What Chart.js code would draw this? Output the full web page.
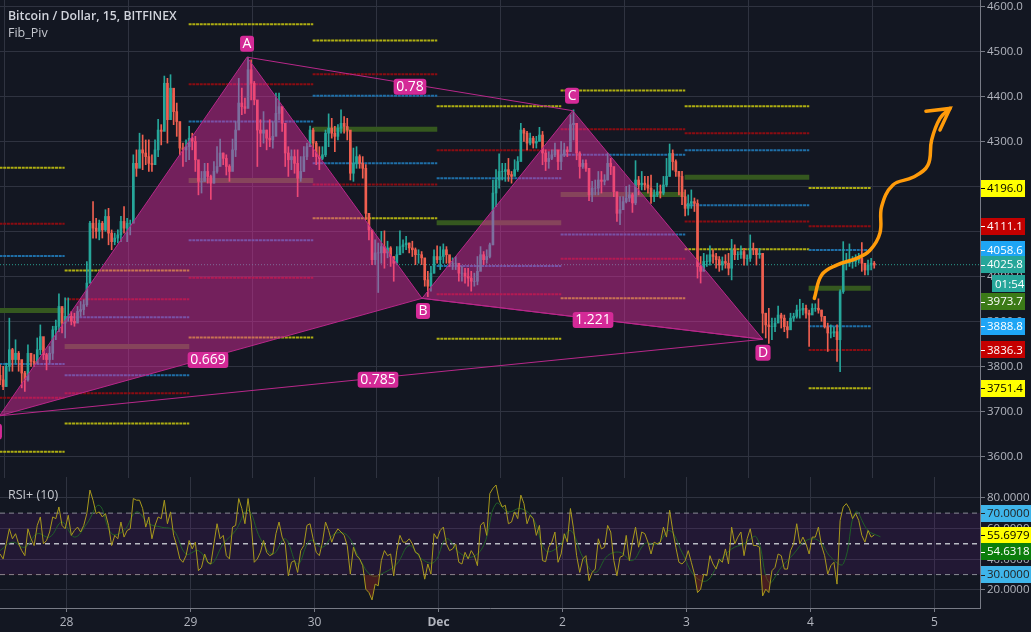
<!DOCTYPE html>
<html><head><meta charset="utf-8">
<style>
html,body{margin:0;padding:0;background:#131722;overflow:hidden}
canvas{position:absolute;left:0;display:block}
</style>
<script src="https://cdn.jsdelivr.net/npm/chart.js@4"></script>
</head><body>
<canvas id="main" width="1031" height="478" style="top:0"></canvas>
<canvas id="rsi" width="1031" height="155" style="top:477px"></canvas>
<script>
const dayTicks=[1,2,3,4,5,6,7,8];
const dayLabels=['28','29','30','Dec','2','3','4','5'];
const priceTicks=[3600,3700,3800,3900,4000,4100,4200,4300,4400,4500,4600];
const rsiTicks=[20,40,60,80];
const firstCandleDay=0.464, candleStepDays=0.025;

const highs=[3804,3800,3807,3907,3840,3859,3833,3807,3789,3848,3829,3826,3863,3892,3844,3829,3844,3889,3903,3961,3911,3952,3952,3922,3918,3933,3944,3948,4033,4122,4166,4129,4125,4122,4148,4151,4103,4096,4103,4133,4155,4129,4125,
4270,4281,4318,4314,4303,4303,4270,4303,4349,4337,4445,4440,4448,4407,4385,4325,4296,4303,4333,4318,4311,4251,4233,4251,4251,4225,4255,4288,4305,4274,4270,4248,4305,4344,4440,4418,4396,4487,4481,4433,4370,4348,4366,4325,4348,4344,4407,4407,4377,4333,4288,4281,4281,4281,
4266,4288,4296,4334,4329,4300,4288,4288,4325,4361,4351,4333,4337,4370,4355,4351,4303,4285,4288,4270,4266,4248,4140,4081,4081,4074,4100,4101,4078,4066,4044,4066,4101,4081,4089,4074,4078,4063,4059,4055,4029,4011,4022,4059,4068,4066,4072,4066,4044,4041,4044,4026,4022,4018,4018,4011,4007,4044,4066,4055,4059,4074,4214,4237,4272,4251,4251,4262,4233,4259,4266,4340,4329,4322,4318,4311,4311,4331,4322,4281,4277,4281,4296,4277,4300,4296,4288,4359,4370,4340,4277,4259,4259,4237,4211,4214,4233,4233,4226,4274,4262,4233,4185,4177,4177,4200,4203,4185,4257,4222,4233,4222,4222,
4225,4192,4207,4203,4222,4262,4294,4281,4259,4233,4233,4192,4181,4192,4174,4170,4044,4051,4048,4068,4059,4051,4044,4043,4048,4051,4082,4070,4055,4068,4062,4048,4092,4074,4062,4062,4051,3918,
3929,3907,3907,3934,3918,3914,3900,3918,3918,3936,3949,3940,3936,3925,3939,3939,3950,3925,3907,3896,3892,3888,3892,3970,4077,4051,4072,4044,4048,4051,4075,4029,4036,4040,4033];

const lows=[3759,3748,3755,3789,3789,3807,3789,3752,3744,3767,3800,3800,3807,3826,3815,3792,3807,3815,3859,3877,3874,3863,3900,3892,3889,3900,3911,3914,3933,3985,4085,4085,4081,4085,4100,4070,4059,4070,4074,4077,4096,4077,4092,
4126,4222,4244,4237,4248,4233,4233,4259,4266,4292,4325,4296,4355,4337,4311,4270,4244,4255,4259,4281,4233,4181,4185,4211,4207,4171,4207,4229,4266,4248,4225,4211,4244,4266,4340,4359,4362,4385,4392,4381,4244,4288,4296,4281,4288,4285,4325,4348,4322,4244,4222,4237,4229,4177,
4211,4233,4259,4292,4266,4248,4237,4259,4266,4288,4307,4277,4303,4318,4318,4303,4214,4211,4240,4240,4218,4126,4081,4026,4026,3964,4029,4018,4041,4022,3989,4037,4052,4052,4059,4052,4044,4026,4029,4026,3978,3955,3967,4007,4029,4015,4029,4029,4022,4015,4015,3989,3989,3985,3978,3967,3978,3981,4029,4026,4029,4041,4070,4155,4196,4214,4211,4211,4207,4226,4233,4262,4300,4281,4292,4285,4285,4300,4248,4235,4240,4259,4266,4237,4237,4266,4266,4288,4303,4259,4218,4240,4233,4168,4166,4181,4181,4185,4203,4214,4226,4177,4122,4115,4151,4163,4166,4142,4159,4181,4192,4192,4185,
4162,4166,4177,4174,4181,4199,4222,4236,4222,4181,4159,4134,4136,4151,4144,3996,3985,4018,4022,4025,4029,4018,4011,4014,4018,4003,3992,4037,4037,4040,4025,4025,4033,4048,4025,4040,3874,3863,
3851,3859,3877,3900,3885,3877,3863,3888,3900,3907,3907,3914,3907,3844,3918,3922,3918,3900,3885,3833,3863,3866,3811,3788,3962,4014,4022,4018,4022,4029,4011,4003,4003,4014,4018];

const closes=[3770,3755,3800,3837,3815,3829,3815,3785,3770,3829,3811,3807,3837,3866,3826,3815,3829,3881,3889,3933,3896,3911,3911,3900,3896,3922,3926,3937,3985,4118,4107,4100,4118,4103,4133,4096,4077,4085,4092,4122,4107,4118,4118,
4251,4240,4281,4274,4266,4251,4248,4281,4325,4322,4429,4348,4418,4366,4344,4285,4281,4288,4307,4300,4259,4211,4211,4233,4222,4207,4233,4244,4274,4262,4244,4233,4281,4325,4385,4377,4373,4459,4429,4392,4325,4318,4325,4307,4303,4311,4362,4377,4340,4274,4259,4266,4251,4218,
4233,4266,4288,4325,4296,4266,4262,4270,4318,4329,4318,4311,4329,4340,4333,4325,4229,4251,4266,4251,4240,4140,4103,4037,4052,4052,4066,4052,4063,4044,4029,4048,4066,4070,4074,4063,4059,4048,4048,4041,3992,3978,4007,4044,4037,4044,4059,4048,4029,4029,4029,4007,4007,4000,3996,3989,3989,4011,4048,4037,4044,4070,4185,4214,4233,4233,4237,4226,4222,4237,4255,4325,4318,4296,4307,4296,4300,4314,4274,4255,4262,4270,4281,4255,4270,4281,4277,4337,4340,4274,4244,4251,4240,4181,4196,4196,4214,4211,4214,4251,4244,4188,4140,4148,4166,4174,4181,4163,4214,4203,4207,4203,4196,
4177,4181,4188,4185,4203,4222,4273,4255,4233,4222,4177,4151,4162,4166,4162,4022,4011,4033,4033,4048,4044,4037,4025,4033,4029,4018,4059,4048,4048,4055,4040,4040,4062,4059,4048,4051,3918,3892,
3888,3888,3896,3914,3907,3888,3881,3907,3911,3925,3925,3929,3918,3914,3929,3929,3925,3911,3888,3874,3874,3877,3859,3966,4029,4029,4033,4033,4036,4040,4029,4014,4025,4029,4025];

const rsiValues=[43.4,40.2,50,59.8,53.3,56.6,50,45.6,42.3,59.8,53.3,48.9,62,67.5,50,52.2,57.7,67.5,66.4,74,62,59.8,68.6,55.5,58.7,60.9,57.7,62,69.7,85,78.4,69.7,70.8,67.5,69.7,62,48.9,55.5,53.3,64.2,54.4,58.7,59.8,79.5,78.4,78.4,73,60.9,67.5,53.3,62,67.5,66.4,78.4,63.1,70.8,55.5,48.9,40.2,38,42.3,52.2,46.7,51.1,32.5,34.7,43.4,38,36.9,50,63.1,53.3,55.5,42.3,40.2,60.9,62,79.5,73,63.1,79.5,64.2,38,40.2,44.5,52.2,44.5,42.3,43.4,56.6,64.2,54.4,50,29.2,38,39.1,31.4,45.6,48.9,62,63.1,53.3,44.5,42.3,51.1,64.2,58.7,51.1,56.6,59.8,57.7,55.5,48.9,30.3,47.8,42.3,40.2,35.8,20.5,18.3,13.5,23.8,22.7,39.1,45.6,42.3,43.4,29.2,45.6,55.5,51.1,51.1,53.3,50,44.5,43.4,38,27,36.9,30.3,56.6,53.3,58.7,60.9,50,45.6,46.7,50,38,36.9,44.5,40.2,45.6,42.3,35.8,62,64.2,55.5,82.8,86.1,88.3,78.4,74,75.1,63.1,
64.2,70.8,66.4,81.7,76.2,63.1,68.6,66.4,55.5,62,39.1,38.4,47.8,51.1,57.7,38,43.4,56.6,51.1,73,59.8,42.3,31.4,40.2,42.3,26,31.4,33.6,53.3,46.7,47.8,62,57.7,39.1,29.2,41.3,42.3,55.5,39.1,51.1,60.9,47.8,57.7,56.6,51.1,43.4,51.1,50,51.1,60.9,54.4,71.9,58.7,47.8,38,36.9,39.1,45.6,38,30.3,18.3,20.5,30.3,29.2,42.3,36.9,33.6,40.2,38,46.7,36.9,60.9,50,54.4,57.7,42.3,53.3,59.8,48.9,48.9,47.8,16.1,20.5,18.3,32.5,34.7,43.4,42.3,33.6,33.6,45.6,50,63.1,50,54.4,50,43.4,54.4,54.4,60.9,48.9,42.3,30.3,35.8,38,23.8,65.3,74,76.2,73,66.4,69.7,65.3,55.5,51.1,58.7,54.4,55.7];

const rsiAverage=[45.6,51.1,47.8,56.6,54.4,64.2,54.4,63.1,75.1,56.6,58.7,70.8,63.1,60.9,58.7,43.4,45.6,36.9,50,58.7,71.9,53.3,43.4,53.3,36.9,52.2,47.8,56.6,55.5,40.2,29.2,31.4,36.9,48.9,40.2,38,53.3,44.5,41.3,48.9,76.2,70.8,73,66.4,45.6,47.8,58.7,41.3,31.4,42.3,44.5,39.1,50,50,58.7,44.5,29.2,26,38,46.7,50,54.4,24.9,34.7,43.4,52.2,52.2,41.3,36.9,70.8,58.7,54.6];
const rsiAverageEvery=4;

const sessionStarts=[0.40,0.985,1.985,2.985,3.985,4.985,5.985,6.985];
const sessionEnds=[0.985,1.99,2.99,3.99,4.99,5.99,6.99,7.485];
const r3=[4241,4013,4560,4524,4378,4413,4378,4196.0];
const r2=[4117,3949,4427,4449,4280,4327,4318,4111.1];
const r1=[4045,3909,4344,4401,4218,4270,4280,4058.6];
const pp=[3924,3844,4213,4327,4119,4182,4220,3973.7];
const s1=[3805,3780,4080,4251,4023,4093,4158,3888.8];
const s2=[3730,3740,3997,4204,3960,4039,4122,3836.3];
const s3=[3610,3673,3864,4129,3861,3951,4060,3751.4];

const patternDays=[0.46,2.456,3.867,5.082,6.615];
const patternPrices=[3690,4487,3951,4368,3860];

const patternLabels=['A','B','C','D','X','0.78','0.669','1.221','0.785'];
const patternLabelDays=[2.456,3.875,5.077,6.617,0.423,3.770,2.141,5.246,3.512];
const patternLabelPrices=[4517,3923,4401,3830,3655,4421,3814,3903,3770];

const arrowDays=[7.031,7.090,7.211,7.372,7.480,7.560,7.574,7.665,7.826,7.947,7.977,8.044,8.125];
const arrowPrices=[3951,4003,4025,4040,4058,4096,4155,4203,4220,4247,4303,4351,4373];
const arrowHeadDays=[7.931,8.125,8.044];
const arrowHeadPrices=[4367,4373,4325];

const lastPrice=4025.8;
const priceTags=['4196.0','4111.1','4058.6','4025.8','01:54','3973.7','3888.8','3836.3','3751.4'];
const priceTagLevels=[4196.0,4111.1,4058.6,4025.8,3983,3944,3888.8,3836.3,3751.4];
const rsiTags=['70.0000','55.6979','54.6318','30.0000'];
const rsiTagLevels=[70,55.7,44.9,30];

const FONT='"Open Sans"';
const BG='#131722', GRID='#2f3340', AXIS='#787b86', TXT='#b2b5be';
const UP='#26a69a', DOWN='#ef5f50';
const YEL='#aeae12', RED='#8a0c12', BLUE='#1f6fa8', GRN='#35581f';
const PINK='#d42a97';
const tagStyles=[['#ffff00','#000'],['#c40000','#fff'],['#1ea5f5','#fff'],[UP,'#fff'],[UP,'#fff'],['#3b7a17','#fff'],['#1ea5f5','#fff'],['#c40000','#fff'],['#ffff00','#000']];
const rsiTagStyles=[['#3fb5ea','#222'],['#ffff00','#000'],['#0b7d0b','#fff'],['#3fb5ea','#222']];

const P=(x,y)=>({x,y});
const candleDay=i=>firstCandleDay+i*candleStepDays;
const wickData=highs.map((h,i)=>({x:candleDay(i),y:[lows[i],h]}));
const opens=closes.map((c,i)=>i?closes[i-1]:c+10);
const bodyData=closes.map((c,i)=>({x:candleDay(i),y:[opens[i],c]}));
const candleColors=closes.map((c,i)=>c>=opens[i]?UP:DOWN);

function levelSet(values,color,width,dash){
  const d=[];
  values.forEach((v,i)=>{d.push(P(sessionStarts[i],v),P(sessionEnds[i],v),P(sessionEnds[i],null));});
  return {type:'line',data:d,borderColor:color,borderWidth:width,borderDash:dash,pointRadius:0,spanGaps:false,order:10,tension:0};
}
function tri(a,b,c){
  const pts=[a,b,c,a].map(i=>P(patternDays[i],patternPrices[i]));
  return {type:'line',data:pts,fill:'shape',backgroundColor:'rgba(233,44,164,0.45)',borderColor:'#b8288a',borderWidth:1,pointRadius:0,order:2,tension:0};
}
function seg(a,b){
  return {type:'line',data:[P(patternDays[a],patternPrices[a]),P(patternDays[b],patternPrices[b])],borderColor:'#b8288a',borderWidth:1,pointRadius:0,order:2};
}
function fixAxis(w,h){
  return s=>{ if(w!=null)s.width=w; if(h!=null)s.height=h; s.paddingTop=0;s.paddingBottom=0;s.paddingLeft=0;s.paddingRight=0; };
}
function rr(c,x,y,w,h,r){c.beginPath();c.roundRect(x,y,w,h,r);c.fill();}

function rightTag(c,yPix,text,st,wide,mono){
  const h=17, x=981, w=wide;
  c.fillStyle=st[0];
  c.fillRect(x+(w<40?11:0),Math.round(yPix-h/2),w,h);
  if(w>=40){c.strokeStyle=st[1];c.lineWidth=1;c.beginPath();c.moveTo(x,Math.round(yPix)+.5);c.lineTo(x+4,Math.round(yPix)+.5);c.stroke();}
  c.fillStyle=st[1];c.font='11.5px '+FONT;c.textAlign='left';c.textBaseline='middle';
  c.fillText(text,w<40?x+14:x+6,yPix+.5);
}

const mainOverlay={id:'mainOverlay',
  afterDatasetsDraw(ch){
    const c=ch.ctx,xs=ch.scales.x,ys=ch.scales.y;
    c.save();
    c.rect(0,0,980,478);c.clip();
    patternLabels.forEach((t,i)=>{
      const x=xs.getPixelForValue(patternLabelDays[i]),y=ys.getPixelForValue(patternLabelPrices[i]);
      c.font='14px '+FONT;
      const w=Math.max(14,c.measureText(t).width+5);
      c.fillStyle=PINK;rr(c,x-w/2,y-8,w,16,3);
      c.fillStyle='#fff';c.textAlign='center';c.textBaseline='middle';
      c.fillText(t,x,y+.5);
    });
    c.restore();
    c.save();
    c.fillStyle='#d1d4dc';c.font='600 12.3px '+FONT;c.textAlign='left';c.textBaseline='middle';
    c.fillText('Bitcoin / Dollar, 15, BITFINEX',8,16);
    c.font='12.5px '+FONT;c.fillStyle='#c4c7ce';
    c.fillText('Fib_Piv',8,33);
    c.restore();
  },
  afterDraw(ch){
    const c=ch.ctx,ys=ch.scales.y;
    c.save();
    priceTags.forEach((t,i)=>rightTag(c,ys.getPixelForValue(priceTagLevels[i]),t,tagStyles[i],t==='01:54'?33:44));
    c.restore();
  }
};
const rsiOverlay={id:'rsiOverlay',
  afterDatasetsDraw(ch){
    const c=ch.ctx;
    c.save();c.fillStyle='#c4c7ce';c.font='12.5px '+FONT;c.textAlign='left';c.textBaseline='middle';
    c.fillText('RSI+ (10)',8,18);c.restore();
  },
  afterDraw(ch){
    const c=ch.ctx,ys=ch.scales.y;
    c.save();
    rsiTags.forEach((t,i)=>rightTag(c,ys.getPixelForValue(rsiTagLevels[i]),t,rsiTagStyles[i],50));
    c.restore();
  }
};

const xBase={type:'linear',min:0.4637,max:8.367,offset:false,
  afterBuildTicks:s=>{s.ticks=dayTicks.map(v=>({value:v}));},
  border:{color:AXIS}, grid:{color:GRID,offset:false}};

new Chart(document.getElementById('main'),{
  type:'bar',
  plugins:[mainOverlay],
  data:{datasets:[
    levelSet(r3,YEL,2,[3,0.7]),levelSet(r2,RED,2,[3,0.7]),levelSet(r1,BLUE,2,[3,0.7]),
    levelSet(pp,GRN,5,[]),
    levelSet(s1,BLUE,2,[3,0.7]),levelSet(s2,RED,2,[3,0.7]),levelSet(s3,YEL,2,[3,0.7]),
    {type:'line',data:[P(0.4637,lastPrice),P(8.367,lastPrice)],borderColor:'#2a9d8f',borderWidth:1,borderDash:[1,2],pointRadius:0,order:9},
    {type:'bar',data:wickData,backgroundColor:candleColors,barThickness:1,grouped:false,order:6,borderSkipped:false},
    {type:'bar',data:bodyData,backgroundColor:candleColors,barThickness:2,grouped:false,order:5,borderSkipped:false},
    tri(0,1,2),tri(2,3,4),seg(1,3),seg(2,4),seg(0,4),
    {type:'line',data:arrowDays.map((d,i)=>P(d,arrowPrices[i])),borderColor:'#ff9b0a',borderWidth:3.5,pointRadius:0,tension:.4,borderCapStyle:'round',borderJoinStyle:'round',order:1},
    {type:'line',data:arrowHeadDays.map((d,i)=>P(d,arrowHeadPrices[i])),borderColor:'#ff9b0a',borderWidth:3.5,pointRadius:0,tension:0,borderCapStyle:'round',order:1}
  ]},
  options:{responsive:false,animation:false,devicePixelRatio:1,
    layout:{padding:0},
    plugins:{legend:{display:false},tooltip:{enabled:false},title:{display:false}},
    scales:{
      x:{...xBase,ticks:{display:false},grid:{color:GRID,drawTicks:false},afterFit:fixAxis(null,0)},
      y:{position:'right',min:3551.8,max:4614,
        afterBuildTicks:s=>{s.ticks=priceTicks.map(v=>({value:v}));},
        afterFit:fixAxis(51,null),
        border:{color:AXIS},
        grid:{color:GRID,tickColor:AXIS,tickLength:5},
        ticks:{color:TXT,font:{family:FONT,size:11.5},padding:2,callback:v=>Number(v).toFixed(1)}
      }
    }
  }
});

const rsiLine=rsiValues.map((v,i)=>P(candleDay(i),v));
new Chart(document.getElementById('rsi'),{
  type:'line',
  plugins:[rsiOverlay],
  data:{datasets:[
    {data:[P(0.4637,70),P(8.367,70)],fill:{target:{value:30}},backgroundColor:'rgba(120,30,150,0.16)',borderColor:'#8a8c96',borderWidth:1,borderDash:[5,4],pointRadius:0,order:8},
    {data:[P(0.4637,50),P(8.367,50)],borderColor:'#b9bbc4',borderWidth:1.5,borderDash:[5,4],pointRadius:0,order:7},
    {data:[P(0.4637,30),P(8.367,30)],borderColor:'#8a8c96',borderWidth:1,borderDash:[5,4],pointRadius:0,order:7},
    {data:rsiAverage.map((v,i)=>P(candleDay(i*rsiAverageEvery),v)),borderColor:'#1f5f28',borderWidth:1,pointRadius:0,tension:.4,order:3},
    {data:rsiLine,borderColor:'#a8991c',borderWidth:1,pointRadius:0,tension:0,order:2,
     fill:{target:{value:30},above:'rgba(0,0,0,0)',below:'rgba(170,40,30,0.35)'}}
  ]},
  options:{responsive:false,animation:false,devicePixelRatio:1,
    layout:{padding:0},
    plugins:{legend:{display:false},tooltip:{enabled:false}},
    scales:{
      x:{...xBase,afterFit:fixAxis(null,24),
        grid:{color:GRID,tickColor:AXIS,tickLength:4},
        ticks:{color:TXT,autoSkip:false,maxRotation:0,padding:3,
          font:c=>({family:FONT,size:12,weight:dayLabels[dayTicks.indexOf(c.tick&&c.tick.value)]==='Dec'?'bold':'normal'}),
          callback:v=>dayLabels[dayTicks.indexOf(v)]}
      },
      y:{position:'right',min:8.26,max:93.5,
        afterBuildTicks:s=>{s.ticks=rsiTicks.map(v=>({value:v}));},
        afterFit:fixAxis(51,null),
        border:{color:AXIS},
        grid:{color:GRID,tickColor:AXIS,tickLength:5},
        ticks:{color:TXT,font:{family:FONT,size:11.5},padding:2,callback:v=>Number(v).toFixed(4)}
      }
    }
  }
});
</script>
</body></html>
